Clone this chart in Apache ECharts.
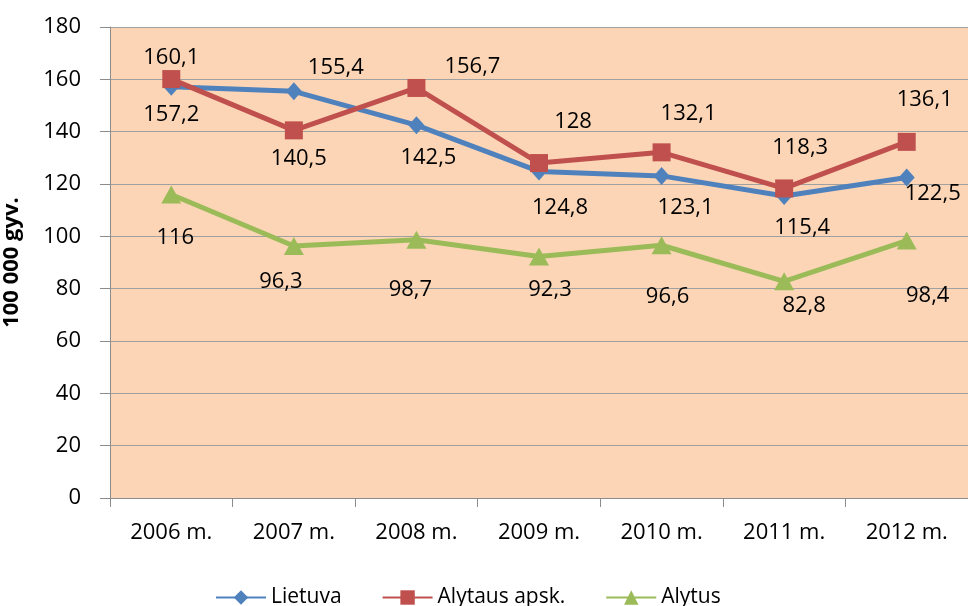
<!DOCTYPE html>
<html><head><meta charset="utf-8">
<script src="https://cdn.jsdelivr.net/npm/echarts@6/dist/echarts.min.js"></script>
<style>html,body{margin:0;padding:0;background:#fff}#c{width:968px;height:606px}</style>
</head><body><div id="c"></div>
<script>
const categories = ['2006 m.','2007 m.','2008 m.','2009 m.','2010 m.','2011 m.','2012 m.'];
const lietuva = [157.2,155.4,142.5,124.8,123.1,115.4,122.5];
const alytausApsk = [160.1,140.5,156.7,128,132.1,118.3,136.1];
const alytus = [116,96.3,98.7,92.3,96.6,82.8,98.4];
const seriesNames = ['Lietuva','Alytaus apsk.','Alytus'];
const yTicks = {min:0,max:180,interval:20};

// label offsets (styling)
const offL = [[0,28],[42,-24],[12,33],[21,36],[24,32],[18,32],[26,16]];
const offA = [[0,-21],[5,28],[56,-21],[34,-41],[27,-39],[16,-41],[18,-42]];
const offG = [[4,43],[-13,36],[-6,50],[11,33],[6,52],[20,24],[21,55]];

const FONT = 'Open Sans';
function fmt(v){return String(v).replace('.',',');}
function mk(vals, offs){
  return vals.map((v,i)=>({value:v,label:{offset:offs[i]}}));
}
const chart = echarts.init(document.getElementById('c'));
const lbl = {show:true,position:'inside',color:'#000',fontFamily:FONT,fontSize:22,formatter:p=>fmt(p.value)};
chart.setOption({
  animation:false,
  grid:{left:110,right:0,top:27,bottom:108,show:true,backgroundColor:'#FBD5B5',borderWidth:0,
    containLabel:false,outerBoundsMode:'none'},
  legend:{top:582,left:210,itemWidth:50,itemHeight:18,itemGap:40,
    textStyle:{fontFamily:FONT,fontSize:21,color:'#000'},data:seriesNames},
  xAxis:{type:'category',data:categories,boundaryGap:true,
    axisLine:{lineStyle:{color:'#8c8c8c',width:1}},
    axisTick:{show:true,length:9,lineStyle:{color:'#8c8c8c'}},
    axisLabel:{fontFamily:FONT,fontSize:22,color:'#000',margin:24}},
  yAxis:{type:'value',min:yTicks.min,max:yTicks.max,interval:yTicks.interval,
    name:'100 000 gyv.',nameLocation:'middle',nameGap:87,nameRotate:90,
    nameTextStyle:{fontFamily:FONT,fontSize:22,fontWeight:'bold',color:'#000'},
    axisLine:{show:true,lineStyle:{color:'#8c8c8c'}},
    axisTick:{show:true,length:10,lineStyle:{color:'#8c8c8c'}},
    splitLine:{lineStyle:{color:'#a0a0a0',width:1}},
    axisLabel:{fontFamily:FONT,fontSize:22,color:'#000',margin:29}},
  series:[
    {name:seriesNames[0],type:'line',data:mk(lietuva,offL),symbol:'diamond',symbolSize:[16,18],
      lineStyle:{color:'#4F81BD',width:5},itemStyle:{color:'#4F81BD'},label:lbl,z:3},
    {name:seriesNames[1],type:'line',data:mk(alytausApsk,offA),symbol:'rect',symbolSize:18,
      lineStyle:{color:'#C0504D',width:5},itemStyle:{color:'#C0504D'},label:lbl,z:4},
    {name:seriesNames[2],type:'line',data:mk(alytus,offG),symbol:'triangle',symbolSize:[20,18],
      lineStyle:{color:'#9BBB59',width:5},itemStyle:{color:'#9BBB59'},label:lbl,z:2}
  ]
});
</script></body></html>
